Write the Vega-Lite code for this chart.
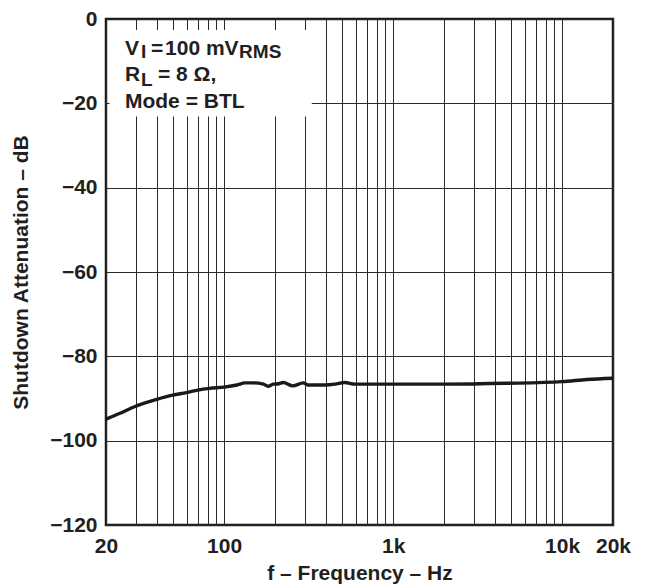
{
  "$schema": "https://vega.github.io/schema/vega-lite/v6.json",
  "width": 507,
  "height": 506,
  "autosize": {"type": "none"},
  "padding": {"left": 106, "top": 19, "right": 36, "bottom": 62},
  "background": "white",
  "config": {
    "font": "Liberation Sans",
    "view": {"stroke": "#1a1a1a", "strokeWidth": 2.5},
    "axis": {
      "domain": false,
      "ticks": false,
      "grid": true,
      "gridColor": "#2a2a2a",
      "gridWidth": 1,
      "gridOpacity": 1,
      "labelFont": "Liberation Sans",
      "labelFontWeight": "bold",
      "labelFontSize": 21,
      "labelColor": "#231f20",
      "titleFont": "Liberation Sans",
      "titleFontWeight": "bold",
      "titleFontSize": 21,
      "titleColor": "#231f20"
    }
  },
  "datasets": {
    "curve": [
      {"f": 20, "db": -94.9},
      {"f": 24.2, "db": -93.5},
      {"f": 29.7, "db": -91.9},
      {"f": 39.9, "db": -90.2},
      {"f": 49.6, "db": -89.2},
      {"f": 60, "db": -88.6},
      {"f": 70, "db": -88.0},
      {"f": 82, "db": -87.6},
      {"f": 100, "db": -87.3},
      {"f": 119, "db": -86.8},
      {"f": 133, "db": -86.3},
      {"f": 150, "db": -86.3},
      {"f": 171, "db": -86.6},
      {"f": 182, "db": -87.1},
      {"f": 195, "db": -86.6},
      {"f": 210, "db": -86.5},
      {"f": 224, "db": -86.2},
      {"f": 255, "db": -87.0},
      {"f": 294, "db": -86.3},
      {"f": 313, "db": -86.8},
      {"f": 395, "db": -86.8},
      {"f": 453, "db": -86.6},
      {"f": 518, "db": -86.2},
      {"f": 594, "db": -86.6},
      {"f": 2000, "db": -86.6},
      {"f": 4700, "db": -86.4},
      {"f": 10000, "db": -86.0},
      {"f": 14000, "db": -85.5},
      {"f": 20000, "db": -85.2}
    ],
    "box": [
      {"f": 21, "f2": 330, "db": -2.6, "db2": -23.1}
    ],
    "notes": [
      {"f": 25.9, "db": -8.47, "label": "V", "kind": "main"},
      {"f": 36.9, "db": -8.47, "label": "=", "kind": "main"},
      {"f": 44.7, "db": -8.47, "label": "100 mV", "kind": "main"},
      {"f": 32.2, "db": -9.25, "label": "I", "kind": "sub"},
      {"f": 122.6, "db": -9.25, "label": "RMS", "kind": "sub"},
      {"f": 25.9, "db": -14.78, "label": "R", "kind": "main"},
      {"f": 32.2, "db": -16.0, "label": "L", "kind": "sub"},
      {"f": 40.6, "db": -14.78, "label": "= 8 Ω,", "kind": "main"},
      {"f": 25.9, "db": -21.1, "label": "Mode = BTL", "kind": "main"}
    ]
  },
  "layer": [
    {
      "data": {"name": "curve"},
      "mark": {"type": "line", "color": "#1a1a1a", "strokeWidth": 3.4, "interpolate": "monotone"},
      "encoding": {
        "x": {
          "field": "f",
          "type": "quantitative",
          "scale": {"type": "log", "domain": [20, 20000], "nice": false},
          "axis": {
            "title": "f – Frequency – Hz",
            "values": [20, 30, 40, 50, 60, 70, 80, 90, 100, 200, 300, 400, 500, 600, 700, 800, 900, 1000, 2000, 3000, 4000, 5000, 6000, 7000, 8000, 9000, 10000, 20000],
            "labelExpr": "indexof([20, 100, 1000, 10000, 20000], datum.value) >= 0 ? (datum.value >= 1000 ? (datum.value / 1000) + 'k' : datum.value + '') : ''",
            "labelPadding": 10,
            "labelDx": 8,
            "labelFlush": false,
            "labelOverlap": false,
            "titlePadding": 6
          }
        },
        "y": {
          "field": "db",
          "type": "quantitative",
          "scale": {"domain": [-120, 0], "nice": false, "zero": false},
          "axis": {
            "title": "Shutdown Attenuation – dB",
            "values": [-120, -100, -80, -60, -40, -20, 0],
            "labelPadding": 9,
            "labelFlush": false,
            "titlePadding": 18
          }
        }
      }
    },
    {
      "data": {"name": "box"},
      "mark": {"type": "rect", "fill": "white"},
      "encoding": {
        "x": {"field": "f", "type": "quantitative"},
        "x2": {"field": "f2"},
        "y": {"field": "db", "type": "quantitative"},
        "y2": {"field": "db2"}
      }
    },
    {
      "data": {"name": "notes"},
      "transform": [{"filter": "datum.kind === 'main'"}],
      "mark": {"type": "text", "align": "left", "baseline": "alphabetic", "fontSize": 21, "fontWeight": "bold", "font": "Liberation Sans", "color": "#231f20"},
      "encoding": {
        "x": {"field": "f", "type": "quantitative"},
        "y": {"field": "db", "type": "quantitative"},
        "text": {"field": "label"}
      }
    },
    {
      "data": {"name": "notes"},
      "transform": [{"filter": "datum.kind === 'sub'"}],
      "mark": {"type": "text", "align": "left", "baseline": "alphabetic", "fontSize": 19, "fontWeight": "bold", "font": "Liberation Sans", "color": "#231f20"},
      "encoding": {
        "x": {"field": "f", "type": "quantitative"},
        "y": {"field": "db", "type": "quantitative"},
        "text": {"field": "label"}
      }
    }
  ]
}
